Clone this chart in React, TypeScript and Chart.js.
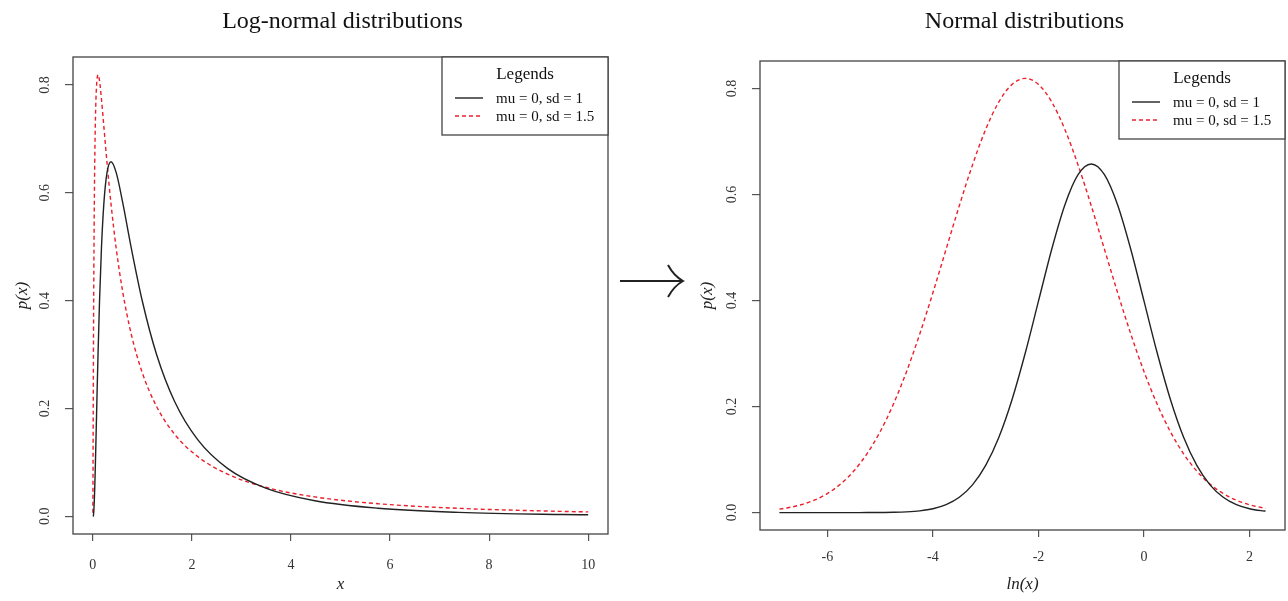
import React, { useEffect, useRef } from "react";
import { Chart, registerables } from "chart.js";

Chart.register(...registerables);

// ---------- data ----------
const X_VALUES = [
  0.001, 0.001171, 0.001503, 0.00193, 0.002479, 0.003183, 0.004087, 0.005248, 0.006738, 0.008652,
  0.011109, 0.014264, 0.018316, 0.023518, 0.030197, 0.038774, 0.049787, 0.063928, 0.082085, 0.105399,
  0.135335, 0.173774, 0.22313, 0.286505, 0.367879, 0.472367, 0.606531, 0.778801, 1.0, 1.284025,
  1.648721, 2.117, 2.718282, 3.490343, 4.481689, 5.754603, 7.389056, 9.487736, 10.0,
];
const LN_X_VALUES = [
  -6.908, -6.75, -6.5, -6.25, -6.0, -5.75, -5.5, -5.25, -5.0, -4.75,
  -4.5, -4.25, -4.0, -3.75, -3.5, -3.25, -3.0, -2.75, -2.5, -2.25,
  -2.0, -1.75, -1.5, -1.25, -1.0, -0.75, -0.5, -0.25, 0.0, 0.25,
  0.5, 0.75, 1.0, 1.25, 1.5, 1.75, 2.0, 2.25, 2.303,
];
const DENSITY_SD1 = [
  0.0, 0.0, 0.0, 0.0, 0.0, 0.00001, 0.00003, 0.00008, 0.00022, 0.00058,
  0.00144, 0.00335, 0.00731, 0.015, 0.0289, 0.05233, 0.08901, 0.14224, 0.21352, 0.30112,
  0.39892, 0.49646, 0.58042, 0.63746, 0.6577, 0.63746, 0.58042, 0.49646, 0.39892, 0.30112,
  0.21352, 0.14224, 0.08901, 0.05233, 0.0289, 0.015, 0.00731, 0.00335, 0.00281,
];
const DENSITY_SD15 = [
  0.0066, 0.0091, 0.0148, 0.0234, 0.03599, 0.05383, 0.07835, 0.11087, 0.15259, 0.20427,
  0.26595, 0.33678, 0.41479, 0.49687, 0.5789, 0.65597, 0.72294, 0.77493, 0.8079, 0.8192,
  0.8079, 0.77493, 0.72294, 0.65597, 0.5789, 0.49687, 0.41479, 0.33678, 0.26595, 0.20427,
  0.15259, 0.11087, 0.07835, 0.05383, 0.03599, 0.0234, 0.0148, 0.0091, 0.00818,
];
const SERIES_LABELS = ["mu = 0, sd = 1", "mu = 0, sd = 1.5"];
const LEFT_X_TICKS = [0, 2, 4, 6, 8, 10];
const RIGHT_X_TICKS = [-6, -4, -2, 0, 2];
const Y_TICKS = [0, 0.2, 0.4, 0.6, 0.8];
const Y_TICK_LABELS = ["0.0", "0.2", "0.4", "0.6", "0.8"];
const LEFT_X_RANGE = [-0.4, 10.4];
const RIGHT_X_RANGE = [-7.276, 2.671];
const Y_RANGE = [-0.0328, 0.852];

const SERIF = '"Liberation Serif", "Times New Roman", serif';
const INK = "#222";
const RED = "#ec1f2b";

const decorPlugin = {
  id: "decor",
  afterDraw(chart: any, _args: any, opts: any) {
    const { ctx, chartArea: a, scales } = chart;
    ctx.save();
    // plot box
    ctx.strokeStyle = "#444";
    ctx.lineWidth = 1.3;
    ctx.strokeRect(a.left, a.top, a.right - a.left, a.bottom - a.top);

    // main title
    ctx.fillStyle = "#111";
    ctx.font = `24px ${SERIF}`;
    ctx.textAlign = "center";
    ctx.textBaseline = "middle";
    ctx.fillText(opts.title, (a.left + a.right) / 2 + 2, 22);

    // rotated y tick labels
    ctx.font = `14px ${SERIF}`;
    ctx.fillStyle = "#333";
    const ys = scales.y;
    Y_TICKS.forEach((v, i) => {
      const py = ys.getPixelForValue(v);
      ctx.save();
      ctx.translate(a.left - 28, py);
      ctx.rotate(-Math.PI / 2);
      ctx.fillText(Y_TICK_LABELS[i], 0, 0);
      ctx.restore();
    });

    // legend box
    const lw = 166, lh = 78;
    const lx = a.right - lw, ly = a.top;
    ctx.fillStyle = "#fff";
    ctx.fillRect(lx, ly, lw, lh);
    ctx.strokeStyle = "#444";
    ctx.lineWidth = 1.3;
    ctx.strokeRect(lx, ly, lw, lh);
    ctx.fillStyle = "#111";
    ctx.font = `17px ${SERIF}`;
    ctx.textAlign = "center";
    ctx.fillText("Legends", lx + lw / 2, ly + 18);
    ctx.font = `15px ${SERIF}`;
    ctx.textAlign = "left";
    chart.data.datasets.forEach((ds: any, i: number) => {
      const ry = ly + 41 + i * 18;
      ctx.save();
      ctx.strokeStyle = ds.borderColor;
      ctx.lineWidth = ds.borderWidth;
      ctx.setLineDash(ds.borderDash || []);
      ctx.beginPath();
      ctx.moveTo(lx + 13, ry);
      ctx.lineTo(lx + 41, ry);
      ctx.stroke();
      ctx.restore();
      ctx.fillStyle = "#111";
      ctx.fillText(ds.label, lx + 54, ry + 1);
    });

    // arrow between panels
    if (opts.arrow) {
      ctx.strokeStyle = "#222";
      ctx.lineWidth = 2;
      ctx.setLineDash([]);
      ctx.beginPath();
      ctx.moveTo(620, 281);
      ctx.lineTo(682, 281);
      ctx.stroke();
      ctx.beginPath();
      ctx.moveTo(668, 265);
      ctx.quadraticCurveTo(674, 276, 683, 281);
      ctx.quadraticCurveTo(674, 286, 668, 297);
      ctx.stroke();
    }
    ctx.restore();
  },
};

function buildConfig(p: {
  xs: number[];
  xRange: number[];
  xTicks: number[];
  xTitle: string;
  title: string;
  yAxisWidth: number;
  xAxisHeight: number;
  xTickPad: number;
  padTop: number;
  padRight: number;
  yTitlePad: number;
  arrow: boolean;
}) {
  const tickGrid = {
    display: true,
    drawOnChartArea: false,
    drawTicks: true,
    tickLength: 7,
    color: "#555",
    lineWidth: 1.2,
  };
  return {
    type: "scatter" as const,
    data: {
      datasets: [
        {
          label: SERIES_LABELS[0],
          data: p.xs.map((x, i) => ({ x, y: DENSITY_SD1[i] })),
          showLine: true,
          borderColor: INK,
          borderWidth: 1.4,
          pointRadius: 0,
          cubicInterpolationMode: "monotone",
        },
        {
          label: SERIES_LABELS[1],
          data: p.xs.map((x, i) => ({ x, y: DENSITY_SD15[i] })),
          showLine: true,
          borderColor: RED,
          borderWidth: 1.4,
          borderDash: [4, 3],
          pointRadius: 0,
          cubicInterpolationMode: "monotone",
        },
      ],
    },
    options: {
      animation: false,
      responsive: false,
      layout: { padding: { top: p.padTop, right: p.padRight, left: 0, bottom: 0 } },
      plugins: {
        legend: { display: false },
        title: { display: false },
        tooltip: { enabled: false },
        decor: { title: p.title, arrow: p.arrow },
      },
      scales: {
        x: {
          type: "linear",
          min: p.xRange[0],
          max: p.xRange[1],
          afterBuildTicks: (s: any) => {
            s.ticks = p.xTicks.map((v) => ({ value: v }));
          },
          afterFit: (s: any) => {
            s.height = p.xAxisHeight;
          },
          grid: tickGrid,
          border: { display: false },
          ticks: {
            font: { family: SERIF, size: 14 },
            color: "#333",
            padding: p.xTickPad,
            maxRotation: 0,
            autoSkip: false,
            callback: (v: any) => String(v),
          },
          title: {
            display: true,
            text: p.xTitle,
            color: INK,
            font: { family: SERIF, size: 17, style: "italic" },
            padding: { top: 0, bottom: 6 },
          },
        },
        y: {
          type: "linear",
          min: Y_RANGE[0],
          max: Y_RANGE[1],
          afterBuildTicks: (s: any) => {
            s.ticks = Y_TICKS.map((v) => ({ value: v }));
          },
          afterFit: (s: any) => {
            s.width = p.yAxisWidth;
          },
          grid: { ...tickGrid, tickLength: 8 },
          border: { display: false },
          ticks: { display: false },
          title: {
            display: true,
            text: "p(x)",
            color: INK,
            font: { family: SERIF, size: 17, style: "italic" },
            padding: { top: p.yTitlePad, bottom: 0 },
          },
        },
      },
    },
    plugins: [decorPlugin],
  };
}

export default function App() {
  const leftRef = useRef<HTMLCanvasElement>(null);
  const rightRef = useRef<HTMLCanvasElement>(null);

  useEffect(() => {
    const left = new Chart(
      leftRef.current as HTMLCanvasElement,
      buildConfig({
        xs: X_VALUES,
        xRange: LEFT_X_RANGE,
        xTicks: LEFT_X_TICKS,
        xTitle: "x",
        title: "Log-normal distributions",
        yAxisWidth: 73,
        xAxisHeight: 67,
        xTickPad: 16,
        padTop: 57,
        padRight: 82,
        yTitlePad: 12,
        arrow: true,
      }) as any
    );
    const right = new Chart(
      rightRef.current as HTMLCanvasElement,
      buildConfig({
        xs: LN_X_VALUES,
        xRange: RIGHT_X_RANGE,
        xTicks: RIGHT_X_TICKS,
        xTitle: "ln(x)",
        title: "Normal distributions",
        yAxisWidth: 70,
        xAxisHeight: 71,
        xTickPad: 12,
        padTop: 61,
        padRight: 3,
        yTitlePad: 7,
        arrow: false,
      }) as any
    );
    return () => {
      left.destroy();
      right.destroy();
    };
  }, []);

  return (
    <div style={{ position: "absolute", left: 0, top: 0, width: 1288, height: 601, background: "#fff" }}>
      <canvas
        ref={leftRef}
        width={690}
        height={601}
        style={{ position: "absolute", left: 0, top: 0, width: 690, height: 601 }}
      />
      <canvas
        ref={rightRef}
        width={598}
        height={601}
        style={{ position: "absolute", left: 690, top: 0, width: 598, height: 601 }}
      />
    </div>
  );
}
